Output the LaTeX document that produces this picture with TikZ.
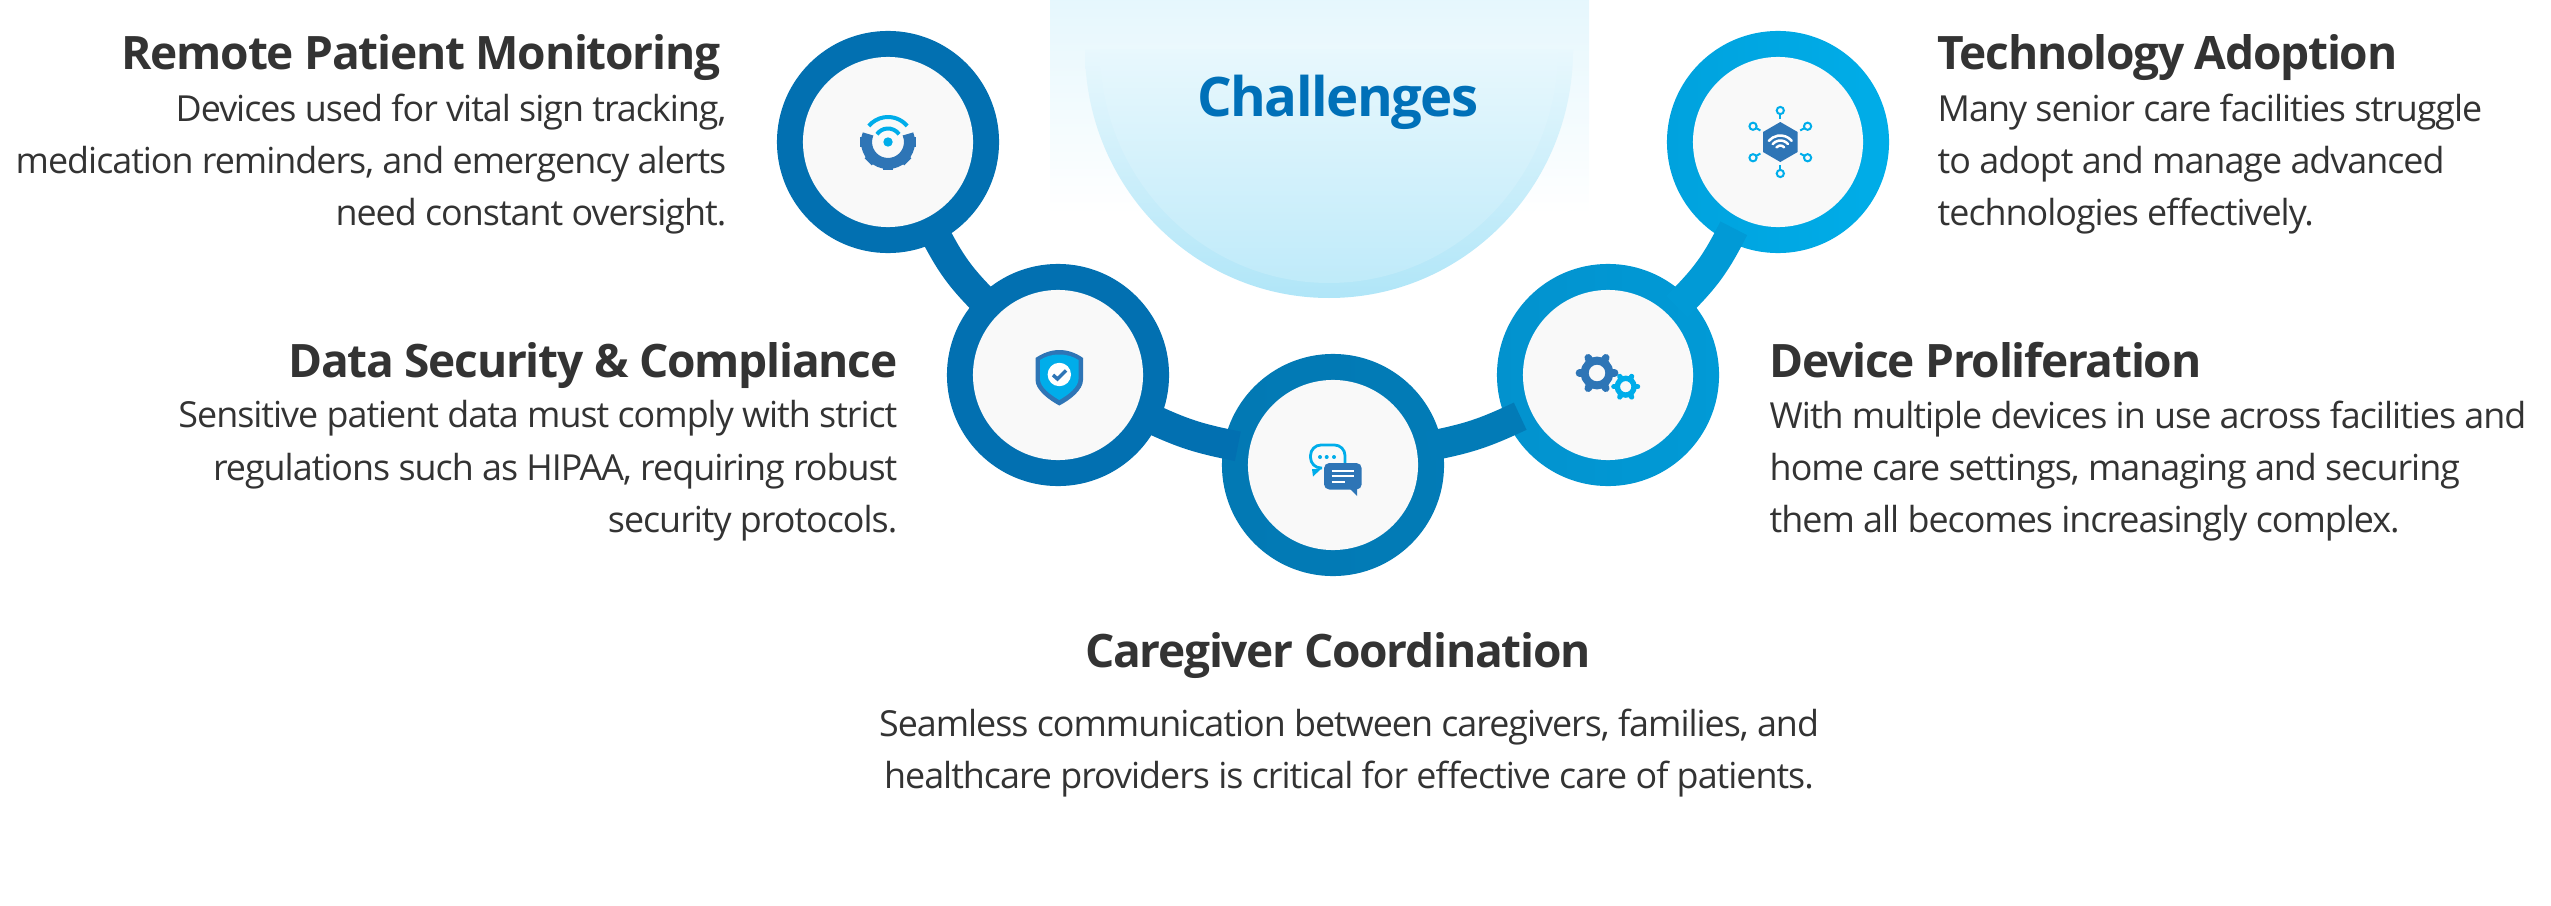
\documentclass[tikz,border=0pt]{standalone}
\usepackage{fontspec}
\setmainfont[LetterSpace=-2.8]{Open Sans}
\usetikzlibrary{positioning}

\definecolor{ringA}{HTML}{0270B1}
\definecolor{ringB}{HTML}{0270B1}
\definecolor{ringC}{HTML}{0279B4}
\definecolor{ringD}{HTML}{0292CE}
\definecolor{ringE}{HTML}{00A2DE}
\definecolor{ringF}{HTML}{00ADE8}
\definecolor{discgray}{HTML}{F9F9F9}
\definecolor{icondark}{HTML}{2E75B6}
\definecolor{iconlight}{HTML}{00ADEA}
\definecolor{textgray}{HTML}{333333}
\definecolor{headblue}{HTML}{0070B8}

\tikzset{
    ringnode/.style={circle, minimum size=2.22cm, inner sep=0, outer sep=0},
    discnode/.style={circle, minimum size=1.70cm, inner sep=0, fill=discgray},
    linkline/.style={line width=0.30cm, shorten >=-4pt, shorten <=-4pt},
    titletext/.style={inner sep=0, text=textgray, font=\fontsize{13.1}{16}\selectfont\bfseries},
    bodytext/.style={inner sep=0, text=textgray, font=\fontsize{10.2}{14.8}\selectfont},
}

% one gear: centre, teeth radius, tooth scale, colour
\newcommand{\gearicon}[5]{
    \foreach \a in {0,60,...,300}
        \draw[#5, line width=#4*0.075cm, line cap=round]
            (#1,#2) ++(\a:#3*0.76) -- ++(\a:#3*0.12);
    \draw[#5, line width=#3*0.004cm] (#1,#2) circle [radius=#3*0.62];
}

\begin{document}
\begin{tikzpicture}[x=0.01cm, y=0.01cm]
\useasboundingbox (0,0) rectangle (2551,905);

% top panel and half disc
\shade[top color=ringF!10, bottom color=white] (1050,905) rectangle (1589,690);
\shade[top color=ringF!9, bottom color=ringF!31] (1085,855)
    arc [start angle=180, end angle=360, x radius=244, y radius=248] -- cycle;
\shade[top color=ringF!9, bottom color=ringF!25] (1100,855)
    arc [start angle=180, end angle=360, x radius=229, y radius=233] -- cycle;
\node[inner sep=0, text=headblue, font=\fontsize{15.5}{18}\selectfont\bfseries] (head) at (1338,803) {Challenges};

% rings
\node[ringnode, left color=ringA, right color=ringA] (monitor) at (888,763) {};
\node[ringnode, left color=ringB, right color=ringB] (security) at (1058,530) {};
\node[ringnode, left color=ringC, right color=ringC!90!ringD] (care) at (1333,440) {};
\node[ringnode, left color=ringD, right color=ringD!50!ringE] (device) at (1608,530) {};
\node[ringnode, left color=ringE, right color=ringF] (adopt) at (1778,763) {};

% links
\draw[linkline, ringA] (monitor) to[bend right=9] (security);
\draw[linkline, ringB] (security) to[bend right=7] (care);
\draw[linkline, ringC!90!ringD] (care) to[bend right=7] (device);
\draw[linkline, ringD!50!ringE] (device) to[bend right=9] (adopt);

% discs
\node[discnode] (monitordisc) at (monitor) {};
\node[discnode] (securitydisc) at (security) {};
\node[discnode] (caredisc) at (care) {};
\node[discnode] (devicedisc) at (device) {};
\node[discnode] (adoptdisc) at (adopt) {};

% wifi gear
\begin{scope}[shift={(monitor)}]
\foreach \a in {-180,-135,...,0}
    \fill[icondark, rotate=\a] (20,-5) rectangle (28,5);
\draw[icondark, line width=0.11cm] (22:21.5) arc [start angle=22, end angle=-202, radius=21.5];
\fill[iconlight] (0,0) circle [radius=4.7];
\draw[iconlight, line width=0.04cm] (35:13.5) arc [start angle=35, end angle=145, radius=13.5];
\draw[iconlight, line width=0.04cm] (40:25) arc [start angle=40, end angle=140, radius=25];
\end{scope}

% shield
\begin{scope}[shift={(security)}]
\fill[icondark] (1.3,25) .. controls (10,25) and (18,22) .. (25,17)
    -- (25,-5) .. controls (25,-15) and (12,-25) .. (1.3,-30.5)
    .. controls (-9,-25) and (-22.5,-15) .. (-22.5,-5) -- (-22.5,17)
    .. controls (-15,22) and (-7,25) .. (1.3,25) -- cycle;
\fill[iconlight] (1.3,20.5) .. controls (9,20.5) and (15,18.5) .. (20.5,15)
    -- (20.5,-4) .. controls (20.5,-12) and (10,-20) .. (1.3,-25)
    .. controls (-7.5,-20) and (-18,-12) .. (-18,-4) -- (-18,15)
    .. controls (-12.5,18.5) and (-6.5,20.5) .. (1.3,20.5) -- cycle;
\fill[white] (1.3,0.5) circle [radius=11.7];
\draw[icondark, line width=0.035cm] (-5,0) -- (-0.5,-4) -- (8,4.5);
\end{scope}

% chat bubbles
\begin{scope}[shift={(care)}]
\draw[iconlight, line width=0.028cm, rounded corners=3pt] (12,1) -- (12,20) -- (-22.5,20)
    -- (-22.5,-3) -- (-11,-3);
\fill[iconlight] (-21,-4) -- (-20,-11.5) -- (-12,-4) -- cycle;
\foreach \x in {-13,-6.3,1}
    \fill[iconlight] (\x,8) circle [radius=2];
\fill[icondark, rounded corners=1.5pt] (-9,2) rectangle (28.7,-24.5);
\fill[icondark] (17,-24) -- (24,-24) -- (24,-31) -- cycle;
\draw[white, line width=0.024cm] (-1.3,-6) -- (21,-6);
\draw[white, line width=0.024cm] (-1.3,-11) -- (21,-11);
\draw[white, line width=0.024cm] (-1.3,-16.7) -- (11.7,-16.7);
\end{scope}

% gears
\begin{scope}[shift={(device)}]
\gearicon{-11}{2}{20}{1}{icondark}
\gearicon{17.7}{-11.7}{13.5}{0.7}{iconlight}
\end{scope}

% hexagon network
\begin{scope}[shift={(adopt)}]
\fill[icondark] (2.3,20) -- (19.6,10) -- (19.6,-10) -- (2.3,-20) -- (-15,-10) -- (-15,10) -- cycle;
\foreach \r in {5,10,15}
    \draw[white, line width=0.025cm, line cap=round] (2.3,-8.5) ++(40:\r) arc [start angle=40, end angle=140, radius=\r];
\foreach \a in {30,90,...,330} {
    \draw[iconlight, line width=0.02cm] (2.3,0) ++(\a:23) -- ++(\a:5);
    \draw[iconlight, line width=0.02cm] (2.3,0) ++(\a:31.5) circle [radius=3.6];
}
\end{scope}

% texts left
\node[titletext, anchor=base east] (monitortitle) at (721,835) {Remote Patient Monitoring};
\node[bodytext, anchor=north east, align=right] (monitortext) at (727,812)
    {Devices used for vital sign tracking,\\medication reminders, and emergency alerts\\need constant oversight.};
\node[titletext, anchor=base east] (securitytitle) at (898,528) {Data Security \& Compliance};
\node[bodytext, anchor=north east, align=right] (securitytext) at (898,505)
    {Sensitive patient data must comply with strict\\regulations such as HIPAA, requiring robust\\security protocols.};

% texts bottom
\node[titletext, anchor=base] (caretitle) at (1338,238) {Caregiver Coordination};
\node[bodytext, anchor=north, align=center] (caretext) at (1349,197)
    {Seamless communication between caregivers, families, and\\healthcare providers is critical for effective care of patients.};

% texts right
\node[titletext, anchor=base west] (devicetitle) at (1769,528) {Device Proliferation};
\node[bodytext, anchor=north west, align=left] (devicetext) at (1769,505)
    {With multiple devices in use across facilities and\\home care settings, managing and securing\\them all becomes increasingly complex.};
\node[titletext, anchor=base west] (adopttitle) at (1937,835) {Technology Adoption};
\node[bodytext, anchor=north west, align=left] (adopttext) at (1937,812)
    {Many senior care facilities struggle\\to adopt and manage advanced\\technologies effectively.};
\end{tikzpicture}
\end{document}
